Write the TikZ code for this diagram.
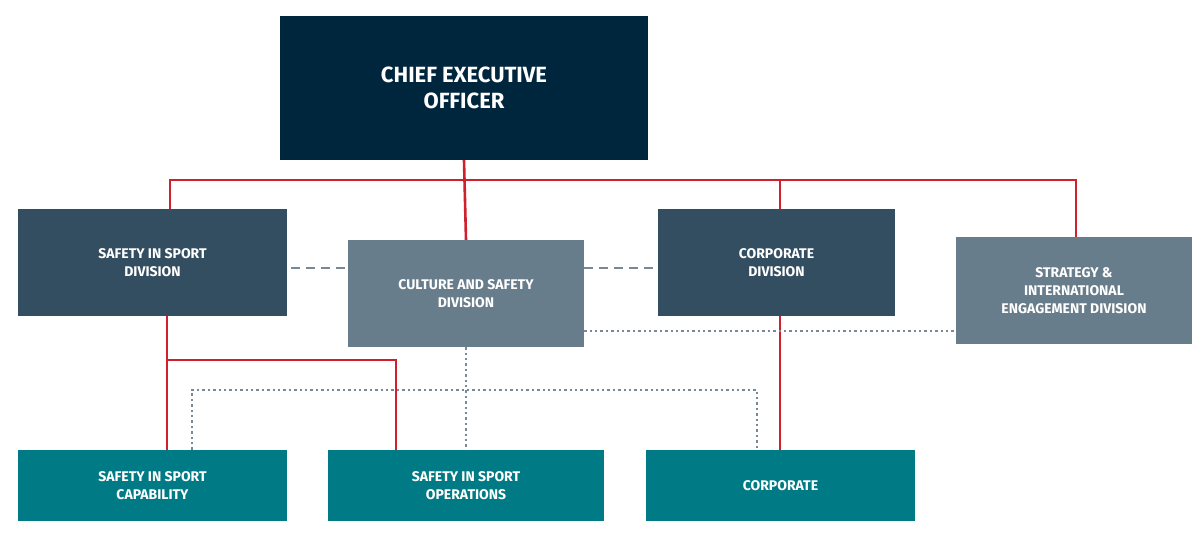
\documentclass[tikz,border=0pt]{standalone}
\usepackage{fontspec}
\setmainfont{Fira Sans}
\definecolor{navy}{RGB}{0,38,62}
\definecolor{slate}{RGB}{52,78,97}
\definecolor{gray1}{RGB}{104,125,140}
\definecolor{teal1}{RGB}{0,123,133}
\definecolor{red1}{RGB}{208,32,46}
\definecolor{dotc}{RGB}{120,136,150}
\begin{document}
\begin{tikzpicture}[x=1pt,y=-1pt,
 box/.style={draw=none,text=white,font=\bfseries\fontsize{14}{18}\selectfont,align=center,inner sep=0pt},
 red/.style={draw=red1,line width=2.6pt},
 dsh/.style={draw=dotc,line width=2.6pt,dash pattern=on 9pt off 6pt},
 dot/.style={draw=dotc,line width=2.4pt,dash pattern=on 2.4pt off 3pt}]
\useasboundingbox (0,0) rectangle (1200,541);
\node[box,fill=navy,minimum width=368pt,minimum height=144pt,font=\bfseries\fontsize{22}{26}\selectfont] (ceo) at (464,88) {CHIEF EXECUTIVE\\OFFICER};
\node[box,fill=slate,minimum width=269pt,minimum height=107pt] (sis) at (152.5,262.5) {SAFETY IN SPORT\\DIVISION};
\node[box,fill=gray1,minimum width=236pt,minimum height=107pt] (cul) at (466,293.5) {CULTURE AND SAFETY\\DIVISION};
\node[box,fill=slate,minimum width=237pt,minimum height=107pt] (cor) at (776.5,262.5) {CORPORATE\\DIVISION};
\node[box,fill=gray1,minimum width=236pt,minimum height=107pt] (str) at (1074,290.5) {STRATEGY \&\\INTERNATIONAL\\ENGAGEMENT DIVISION};
\node[box,fill=teal1,minimum width=269pt,minimum height=71pt] (cap) at (152.5,485.5) {SAFETY IN SPORT\\CAPABILITY};
\node[box,fill=teal1,minimum width=276pt,minimum height=71pt] (ops) at (466,485.5) {SAFETY IN SPORT\\OPERATIONS};
\node[box,fill=teal1,minimum width=269pt,minimum height=71pt] (corp) at (780.5,485.5) {CORPORATE};
\coordinate (h) at (0,180);
\coordinate (m) at (0,360);
\coordinate (d) at (0,390);
\draw[red] (ceo.south) -- (cul.north);
\draw[red] (sis.north -| 170,0) |- (1076,180) -- (str.north -| 1076,0);
\draw[red] (780,180) -- (cor.north -| 780,0);
\draw[red] (sis.south -| 167,0) -- (cap.north -| 167,0);
\draw[red] (167,360) -| (ops.north -| 396,0);
\draw[red] (cor.south -| 780,0) -- (corp.north -| 780,0);
\draw[dsh] (291,268) -- (cul.west |- 0,268);
\draw[dsh] (cul.east |- 0,268) -- (cor.west |- 0,268);
\draw[dot] (cul.east |- 0,331) -- (str.west |- 0,331);
\draw[dot] (cul.south) -- (ops.north);
\draw[dot] (cap.north -| 192,0) |- (757,390) -- (corp.north -| 757,0);
\end{tikzpicture}
\end{document}
